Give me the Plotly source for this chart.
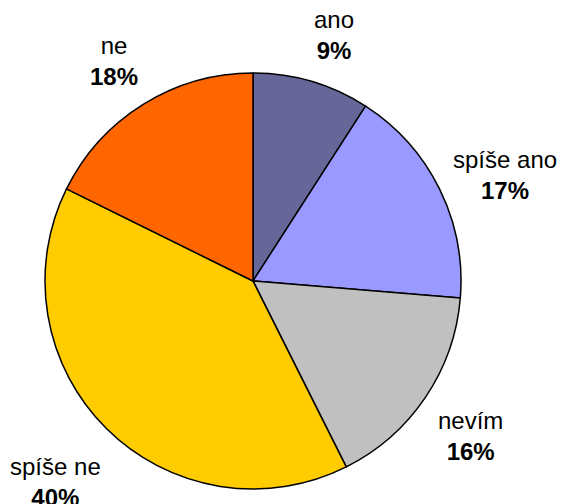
import plotly.graph_objects as go

W, H = 565, 504
OFF = 8  # page body margin shifts the figure by 8px

labels = ["ano", "spíše ano", "nevím", "spíše ne", "ne"]
values = [9.1, 17.2, 16.3, 39.7, 17.7]
colors = ["#666699", "#9999FF", "#C0C0C0", "#FFCC00", "#FF6600"]

# label anchor points in screen pixels (centre of the two-line label)
label_pos = [(334, 35), (505, 175), (470, 436), (55, 482), (114, 61)]

cx, cy, r = 253 - OFF, 281 - OFF, 208

fig = go.Figure(
    go.Pie(
        labels=labels,
        values=values,
        sort=False,
        direction="clockwise",
        rotation=0,
        marker=dict(colors=colors, line=dict(color="black", width=1.5)),
        textinfo="none",
        hoverinfo="label+percent",
        showlegend=False,
        domain=dict(
            x=[(cx - r) / W, (cx + r) / W],
            y=[(H - cy - r) / H, (H - cy + r) / H],
        ),
    )
)

total = sum(values)
for lab, val, (px_, py_) in zip(labels, values, label_pos):
    fig.add_annotation(
        x=(px_ - OFF) / W,
        y=1 - (py_ - OFF) / H,
        xref="paper",
        yref="paper",
        text=f"{lab}<br><b>{round(val / total * 100)}%</b>",
        showarrow=False,
        font=dict(size=24, color="black", family="Liberation Sans, Arial"),
        align="center",
        xanchor="center",
        yanchor="middle",
    )

fig.update_layout(
    width=W,
    height=H,
    margin=dict(l=0, r=0, t=0, b=0),
    paper_bgcolor="white",
    plot_bgcolor="white",
)

fig.write_html("out.html")
